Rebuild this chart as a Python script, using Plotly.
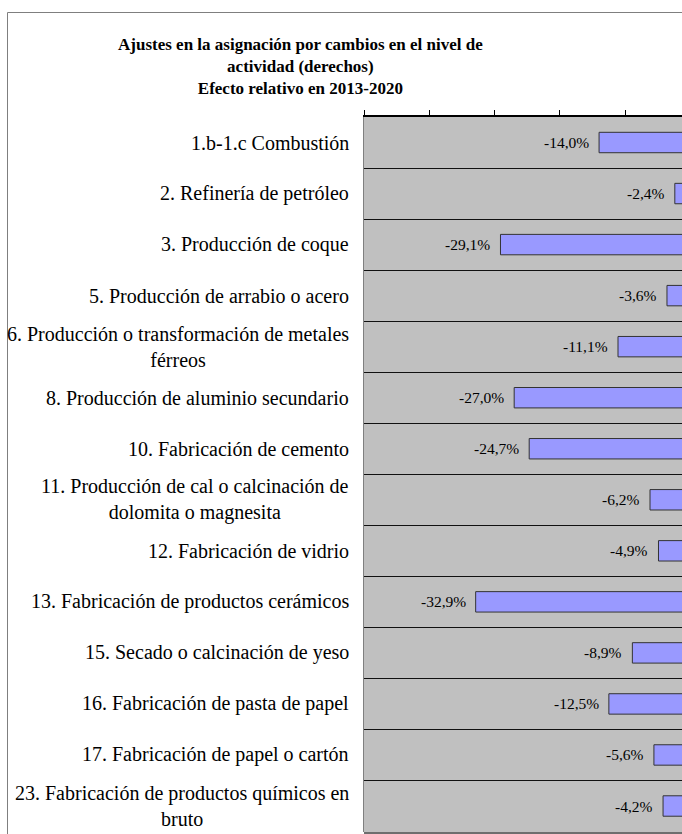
import plotly.graph_objects as go

categories = [
    "1.b-1.c Combustión",
    "2. Refinería de petróleo",
    "3. Producción de coque",
    "5. Producción de arrabio o acero",
    "6. Producción o transformación de metales<br>férreos",
    "8. Producción de aluminio secundario",
    "10. Fabricación de cemento",
    "11. Producción de cal o calcinación de<br>dolomita o magnesita",
    "12. Fabricación de vidrio",
    "13. Fabricación de productos cerámicos",
    "15. Secado o calcinación de yeso",
    "16. Fabricación de pasta de papel",
    "17. Fabricación de papel o cartón",
    "23. Fabricación de productos químicos en<br>bruto",
]
values = [-14.0, -2.4, -29.1, -3.6, -11.1, -27.0, -24.7, -6.2, -4.9, -32.9, -8.9, -12.5, -5.6, -4.2]

title_text = ("Ajustes en la asignación por cambios en el nivel de<br>"
              "actividad (derechos)<br>Efecto relativo en 2013-2020")

W, H = 682, 834
ML, MT, MR, MB = 364, 117, 0, 2
PW, PH = W - ML - MR, H - MT - MB
SERIF = "Liberation Serif, Times New Roman, serif"

def px_x(sx):
    return (sx - ML) / PW

def px_y(sy):
    return (H - MB - sy) / PH

fig = go.Figure(go.Bar(
    x=values, y=categories, orientation="h",
    marker=dict(color="#9999FF", line=dict(color="#333333", width=1)),
    hoverinfo="skip",
))

annotations = []
for c, v in zip(categories, values):
    annotations.append(dict(
        x=0, xref="paper", y=c, yref="y", text=c, showarrow=False,
        xanchor="right", yanchor="middle", align="center", xshift=-13,
        font=dict(family=SERIF, size=20, color="black"),
    ))
    annotations.append(dict(
        x=v, xref="x", y=c, yref="y",
        text=f"{v:.1f}".replace(".", ",") + "%", showarrow=False,
        xanchor="right", yanchor="middle", xshift=-8,
        font=dict(family=SERIF, size=15.5, color="black"),
    ))
annotations.append(dict(
    x=px_x(300), xref="paper", y=px_y(67), yref="paper", text="<b>" + title_text + "</b>",
    showarrow=False, xanchor="center", yanchor="middle", align="center",
    font=dict(family=SERIF, size=17, color="black"),
))

shapes = [
    # outer frame (left + top)
    dict(type="line", xref="paper", yref="paper", x0=px_x(7.5), x1=px_x(7.5),
         y0=px_y(12.5), y1=px_y(840), line=dict(color="#7f7f7f", width=1)),
    dict(type="line", xref="paper", yref="paper", x0=px_x(7.5), x1=px_x(690),
         y0=px_y(12.5), y1=px_y(12.5), line=dict(color="#7f7f7f", width=1)),
    # bottom border of plot area
    dict(type="line", xref="paper", yref="paper", x0=0, x1=1, y0=px_y(833), y1=px_y(833),
         line=dict(color="#6e6e6e", width=2)),
]

fig.update_layout(
    width=W, height=H,
    margin=dict(l=ML, r=MR, t=MT, b=MB, pad=0),
    paper_bgcolor="white", plot_bgcolor="#C0C0C0",
    bargap=0.6, showlegend=False,
    annotations=annotations, shapes=shapes,
    xaxis=dict(side="top", range=[-50, -1.3], dtick=10, tick0=0,
               ticks="outside", ticklen=5, tickcolor="black", tickwidth=1,
               showticklabels=False, showgrid=False, zeroline=False,
               showline=True, linecolor="black", linewidth=1.5, fixedrange=True),
    yaxis=dict(type="category", categoryorder="array", categoryarray=categories,
               autorange="reversed", tickson="boundaries", showgrid=True,
               gridcolor="#111111", gridwidth=1, ticks="", showticklabels=False,
               showline=True, linecolor="#808080", linewidth=1, zeroline=False,
               fixedrange=True),
)

fig.write_html(
    "out.html",
    config={"displayModeBar": False},
    post_script="document.body.style.margin='0';document.documentElement.style.overflow='hidden';",
)
